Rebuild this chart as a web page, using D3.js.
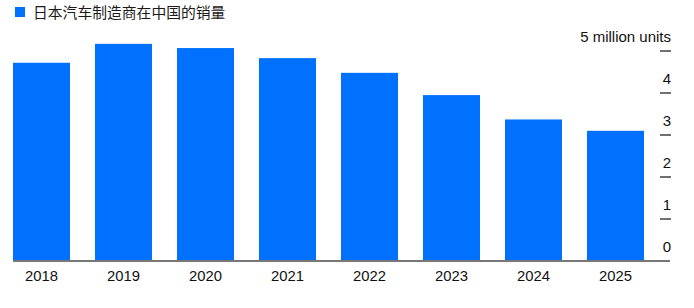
<!DOCTYPE html>
<html>
<head>
<meta charset="utf-8">
<script src="https://cdn.jsdelivr.net/npm/d3@7"></script>
<style>
    body { margin: 0; background: #fff; }
    svg { display: block; }
    text { font-family: "Liberation Sans", Arial, Helvetica, sans-serif; fill: #111; }
</style>
</head>
<body>
<div id="chart"></div>
<script>
// data
const years = ["2018", "2019", "2020", "2021", "2022", "2023", "2024", "2025"];
const sales = [4.72, 5.17, 5.07, 4.83, 4.48, 3.95, 3.37, 3.10];
const yTicks = [0, 1, 2, 3, 4, 5];
const legendLabel = "日本汽车制造商在中国的销量";
const unitLabel = "million units";

const width = 694, height = 308;
const barColor = "#0070ff";

let svg = d3.select("#chart")
    .append("svg")
    .attr("width", width)
    .attr("height", height);

// scales
let x = d3.scaleBand()
    .domain(years)
    .range([13, 644])
    .paddingInner(25 / 82)
    .paddingOuter(0);

let y = d3.scaleLinear()
    .domain([0, 5])
    .range([261, 51]);

// legend
svg.append("rect")
    .attr("x", 15).attr("y", 7)
    .attr("width", 10).attr("height", 10)
    .attr("fill", barColor);
svg.append("text")
    .attr("x", 33).attr("y", 17.5)
    .style("font-family", "'Noto Sans CJK SC', sans-serif")
    .style("font-size", "14.8px")
    .style("fill", "#1a1a1a")
    .text(legendLabel);

// bars
svg.selectAll(".bar")
    .data(years.map((yr, i) => ({ year: yr, value: sales[i] })))
    .enter()
    .append("rect")
    .attr("class", "bar")
    .attr("x", d => x(d.year))
    .attr("y", d => y(d.value))
    .attr("width", x.bandwidth())
    .attr("height", d => y(0) - y(d.value))
    .attr("fill", barColor);

// baseline
svg.append("line")
    .attr("x1", 13).attr("x2", 670)
    .attr("y1", y(0)).attr("y2", y(0))
    .attr("stroke", "#777")
    .attr("stroke-width", 2);

// x labels
svg.selectAll(".xlab")
    .data(years)
    .enter()
    .append("text")
    .attr("class", "xlab")
    .attr("x", d => x(d) + x.bandwidth() / 2)
    .attr("y", 281)
    .attr("text-anchor", "middle")
    .style("font-size", "14.8px")
    .text(d => d);

// y ticks on the right
svg.selectAll(".ytick")
    .data(yTicks.filter(v => v > 0))
    .enter()
    .append("line")
    .attr("class", "ytick")
    .attr("x1", 660).attr("x2", 671)
    .attr("y1", d => y(d)).attr("y2", d => y(d))
    .attr("stroke", "#222")
    .attr("stroke-width", 1.3);

svg.selectAll(".ylab")
    .data(yTicks)
    .enter()
    .append("text")
    .attr("class", "ylab")
    .attr("x", 671)
    .attr("y", d => y(d) - 9.5)
    .attr("text-anchor", "end")
    .style("font-size", "15px")
    .text(d => d === 5 ? d + " " + unitLabel : d);
</script>
</body>
</html>
